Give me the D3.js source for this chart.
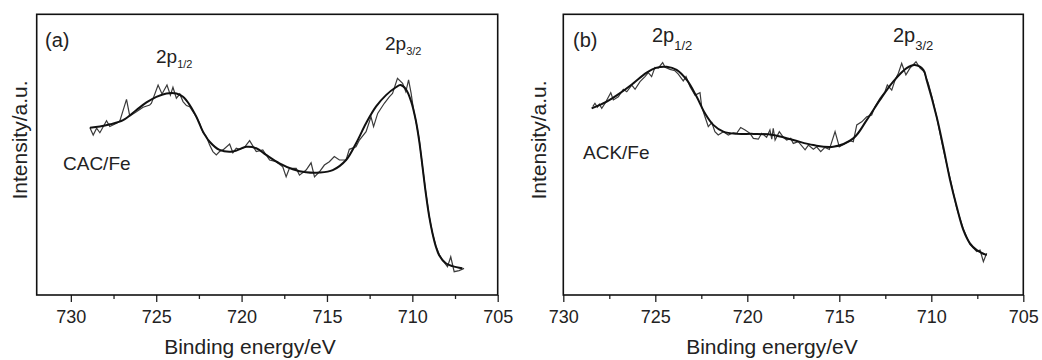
<!DOCTYPE html>
<html>
<head>
<meta charset="utf-8">
<script src="https://cdn.jsdelivr.net/npm/d3@7"></script>
<style>
  body { margin: 0; background: #fff; }
  svg { display: block; font-family: "Liberation Sans", Arial, sans-serif; }
  .tick text { font-size: 18px; fill: #222; }
</style>
</head>
<body>
<div id="chart"></div>
<script>
// tick values shared by both panels
var majorTicks = [730, 725, 720, 715, 710, 705];
var minorTicks = [727.5, 722.5, 717.5, 712.5, 707.5];

// (a) CAC/Fe : raw spectrum [binding energy, intensity]
var rawA = [
  [728.89, 59.7], [728.69, 57.0], [728.49, 59.4], [728.30, 57.8], [727.91, 62.1],
  [727.72, 60.0], [727.32, 61.2], [727.13, 62.0], [726.74, 69.7], [726.55, 63.8],
  [726.16, 65.3], [725.77, 66.9], [725.38, 67.7], [725.28, 68.3], [724.89, 74.8],
  [724.66, 71.6], [724.37, 74.8], [724.17, 71.2], [724.02, 74.0], [723.82, 70.1],
  [723.62, 71.6], [723.43, 68.9], [723.23, 67.5], [723.04, 67.1], [722.85, 65.3],
  [722.65, 63.5], [722.46, 61.2], [722.26, 57.8], [722.06, 56.4], [721.87, 53.4],
  [721.68, 51.1], [721.48, 49.9], [721.29, 51.1], [721.09, 51.7], [720.70, 53.8],
  [720.51, 50.7], [720.31, 52.3], [720.12, 51.9], [719.83, 52.6], [719.53, 55.0],
  [719.14, 51.1], [718.76, 51.7], [718.36, 48.1], [717.97, 47.5], [717.59, 45.7],
  [717.39, 42.1], [717.20, 45.1], [716.80, 45.1], [716.61, 42.7], [716.22, 44.5],
  [715.93, 47.1], [715.73, 42.1], [715.44, 43.9], [715.15, 46.3], [714.86, 47.5],
  [714.57, 49.3], [714.27, 48.1], [713.88, 48.1], [713.69, 51.9], [713.30, 52.8],
  [713.10, 55.2], [712.71, 58.2], [712.42, 63.5], [712.27, 60.0], [712.03, 64.7],
  [711.64, 68.3], [711.35, 70.6], [711.16, 71.8], [710.87, 77.2], [710.57, 75.4],
  [710.38, 72.4], [710.22, 76.6], [710.07, 71.8], [709.93, 66.0], [709.79, 62.0],
  [709.60, 55.5], [709.41, 46.0], [709.21, 36.5], [709.01, 28.0], [708.82, 22.0],
  [708.62, 17.5], [708.43, 14.5], [708.24, 12.5], [707.94, 10.1], [707.75, 13.6],
  [707.55, 8.3], [707.26, 8.7], [706.97, 9.5]
];

// (a) fitted envelope
var fitA = [
  [728.88, 59.6], [728.30, 60.0], [727.70, 60.8], [726.94, 62.3], [726.16, 65.9],
  [725.57, 68.6], [724.99, 70.6], [724.40, 71.8], [723.82, 71.8], [723.43, 70.6],
  [723.04, 67.7], [722.65, 63.5], [722.26, 58.2], [721.87, 54.6], [721.29, 51.7],
  [720.51, 51.1], [719.73, 52.8], [719.14, 52.3], [718.56, 49.9], [717.78, 46.9],
  [717.00, 44.8], [716.22, 43.7], [715.44, 43.6], [714.66, 44.5], [713.88, 48.1],
  [713.30, 54.0], [712.71, 61.2], [712.13, 67.1], [711.54, 71.2], [710.96, 74.0],
  [710.70, 74.8], [710.40, 73.5], [710.07, 69.0], [709.79, 62.0], [709.60, 55.0],
  [709.41, 46.0], [709.21, 36.2], [709.01, 27.9], [708.82, 22.0], [708.62, 17.2],
  [708.43, 14.2], [708.04, 11.3], [707.65, 10.3], [707.07, 9.5]
];

// (b) ACK/Fe : raw spectrum
var rawB = [
  [728.40, 67.1], [728.28, 68.3], [728.15, 66.9], [728.04, 68.0], [727.91, 66.5],
  [727.73, 68.3], [727.42, 72.1], [727.28, 69.5], [727.01, 70.6], [726.74, 73.3],
  [726.55, 72.4], [726.28, 74.8], [726.10, 73.3], [725.83, 76.0], [725.56, 77.8],
  [725.38, 79.2], [725.20, 77.8], [725.02, 81.1], [724.84, 80.8], [724.60, 82.8],
  [724.47, 81.1], [724.20, 80.4], [723.93, 79.9], [723.75, 78.7], [723.48, 76.3],
  [723.33, 77.8], [723.11, 74.2], [722.84, 71.2], [722.57, 72.1], [722.48, 67.1],
  [722.30, 63.5], [722.12, 60.0], [721.93, 61.4], [721.76, 58.2], [721.58, 57.0],
  [721.30, 58.2], [721.03, 57.0], [720.76, 57.8], [720.58, 57.6], [720.36, 59.7],
  [720.12, 58.8], [719.85, 57.6], [719.67, 55.8], [719.40, 55.5], [719.22, 57.6],
  [718.95, 56.2], [718.77, 58.8], [718.67, 55.5], [718.59, 59.4], [718.49, 55.2],
  [718.26, 58.2], [718.04, 56.2], [717.86, 55.2], [717.64, 55.8], [717.50, 54.0],
  [717.23, 54.6], [716.86, 51.7], [716.68, 53.4], [716.41, 51.9], [716.23, 52.8],
  [716.01, 51.1], [715.78, 52.6], [715.54, 51.9], [715.23, 58.2], [715.00, 52.8],
  [714.69, 54.0], [714.42, 55.0], [714.24, 54.6], [714.05, 60.6], [713.78, 61.7],
  [713.51, 63.5], [713.24, 64.1], [713.06, 67.1], [712.79, 70.1], [712.52, 72.4],
  [712.39, 74.8], [712.15, 73.0], [711.97, 76.6], [711.79, 79.0], [711.61, 82.5],
  [711.38, 78.4], [711.16, 80.8], [710.83, 83.1], [710.61, 80.8], [710.40, 79.6],
  [710.16, 75.4], [709.96, 70.5], [709.71, 63.5], [709.35, 52.0], [708.98, 41.5],
  [708.62, 31.0], [708.26, 23.5], [707.90, 18.0], [707.53, 15.5], [707.35, 16.0],
  [707.17, 11.9], [706.99, 14.9]
];

// (b) fitted envelope
var fitB = [
  [728.46, 66.5], [727.64, 68.9], [726.92, 71.9], [726.20, 75.4], [725.47, 79.2],
  [724.92, 81.0], [724.38, 81.3], [723.84, 80.2], [723.29, 76.6], [722.75, 70.6],
  [722.30, 64.7], [721.85, 60.6], [721.30, 58.2], [720.58, 57.4], [719.67, 57.4],
  [718.59, 57.0], [717.50, 55.2], [716.41, 53.4], [715.33, 52.8], [714.24, 55.8],
  [713.51, 62.3], [712.79, 69.5], [712.07, 76.0], [711.34, 80.8], [710.89, 81.9],
  [710.43, 80.2], [710.25, 76.5], [709.71, 63.5], [709.35, 52.8], [708.98, 41.0],
  [708.62, 31.5], [708.26, 23.2], [707.90, 18.4], [707.53, 16.0], [706.99, 14.2]
];

var W = 1042, H = 360;
var svg = d3.select("#chart").append("svg")
    .attr("width", W)
    .attr("height", H);

var plotTop = 14.3, plotBottom = 295;

function drawPanel(p) {
    var x = d3.scaleLinear().domain(p.xDomain).range([p.left, p.right]);
    var y = d3.scaleLinear().domain([0, 100]).range([plotBottom, plotTop]);
    var g = svg.append("g");

    // minor ticks first, then majors with labels
    g.append("g")
        .attr("transform", "translate(0," + plotBottom + ")")
        .call(d3.axisBottom(x).tickValues(minorTicks).tickSize(4).tickFormat(""))
        .call(function(a){ a.select(".domain").remove(); })
        .selectAll("line").attr("stroke", "#222").attr("stroke-width", 1.3);

    var ax = g.append("g")
        .attr("transform", "translate(0," + plotBottom + ")")
        .call(d3.axisBottom(x).tickValues(majorTicks).tickSize(7).tickPadding(8).tickFormat(d3.format("d")));
    ax.select(".domain").remove();
    ax.selectAll("line").attr("stroke", "#222").attr("stroke-width", 1.3);
    ax.selectAll("text").attr("dy", "0.71em").style("font-size", "18px");

    // raw data, thin
    g.append("path")
        .datum(p.raw)
        .attr("fill", "none")
        .attr("stroke", "#3a3a3a")
        .attr("stroke-width", 1.2)
        .attr("d", d3.line().x(function(d){ return x(d[0]); }).y(function(d){ return y(d[1]); }));

    // fitted curve
    g.append("path")
        .datum(p.fit)
        .attr("fill", "none")
        .attr("stroke", "#111")
        .attr("stroke-width", 2)
        .attr("d", d3.line().curve(d3.curveCatmullRom)
            .x(function(d){ return x(d[0]); }).y(function(d){ return y(d[1]); }));

    // frame
    g.append("rect")
        .attr("x", p.left).attr("y", plotTop)
        .attr("width", p.right - p.left).attr("height", plotBottom - plotTop)
        .attr("fill", "none").attr("stroke", "#111").attr("stroke-width", 1.6);

    // axis titles
    g.append("text")
        .attr("x", p.xTitleX).attr("y", 354)
        .attr("text-anchor", "middle")
        .style("font-size", "21px").attr("fill", "#222")
        .text("Binding energy/eV");

    g.append("text")
        .attr("transform", "translate(" + p.yTitleX + ",140) rotate(-90)")
        .attr("text-anchor", "middle")
        .style("font-size", "21px").attr("fill", "#222")
        .text("Intensity/a.u.");

    // panel tag and sample name
    g.append("text").attr("x", p.tag[0]).attr("y", p.tag[1])
        .style("font-size", "20px").attr("fill", "#222").text(p.tagText);
    g.append("text").attr("x", p.name[0]).attr("y", p.name[1])
        .style("font-size", "19px").attr("fill", "#222").text(p.nameText);

    // peak labels with subscripts
    p.peaks.forEach(function(pk){
        var t = g.append("text").attr("x", pk.x).attr("y", pk.y)
            .style("font-size", pk.fs + "px").attr("fill", "#222");
        t.append("tspan").text("2p");
        t.append("tspan").attr("dy", pk.sub).style("font-size", pk.sfs + "px").text(pk.label);
    });
}

drawPanel({
    xDomain: [732, 705], left: 36.7, right: 497.7,
    raw: rawA, fit: fitA,
    xTitleX: 250, yTitleX: 27,
    tag: [45, 47], tagText: "(a)",
    name: [63, 170], nameText: "CAC/Fe",
    peaks: [
        {x: 156, y: 63, fs: 19, sfs: 11, sub: 5, label: "1/2"},
        {x: 385, y: 50, fs: 19, sfs: 11, sub: 5, label: "3/2"}
    ]
});

drawPanel({
    xDomain: [730, 705], left: 563.3, right: 1023.3,
    raw: rawB, fit: fitB,
    xTitleX: 772, yTitleX: 546,
    tag: [573, 47], tagText: "(b)",
    name: [583, 159], nameText: "ACK/Fe",
    peaks: [
        {x: 652, y: 42, fs: 20, sfs: 13, sub: 8, label: "1/2"},
        {x: 893, y: 42, fs: 20, sfs: 13, sub: 8, label: "3/2"}
    ]
});
</script>
</body>
</html>
